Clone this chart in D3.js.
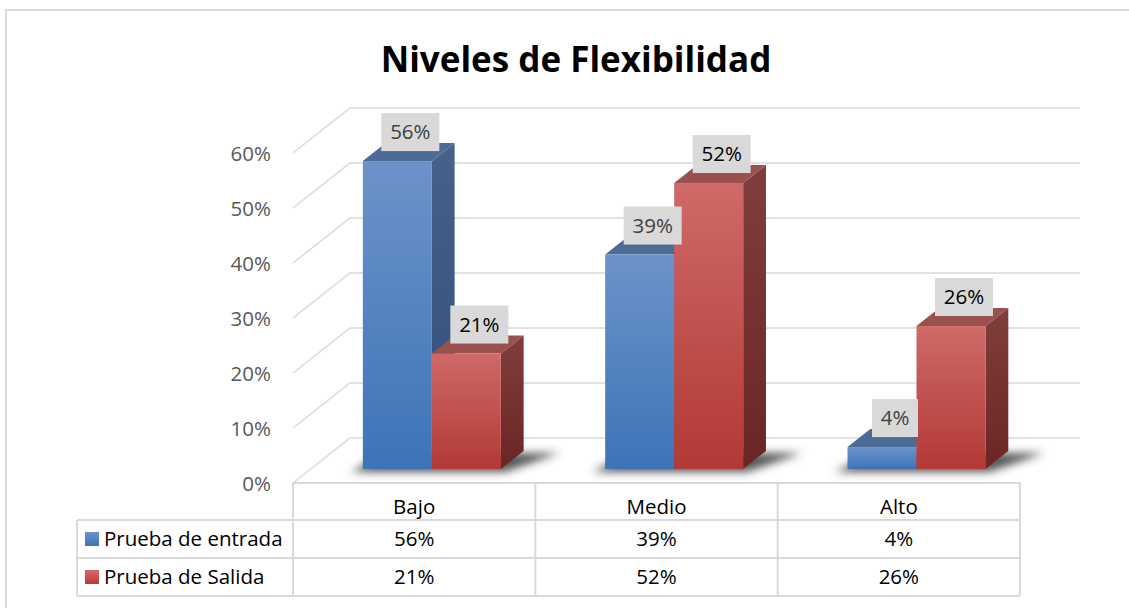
<!DOCTYPE html>
<html>
<head>
<meta charset="utf-8">
<script src="https://cdn.jsdelivr.net/npm/d3@7"></script>
<style>
  body { margin: 0; background: #fff; }
  svg { display: block; font-family: "Open Sans", sans-serif; }
</style>
</head>
<body>
<svg id="chart"></svg>
<script>
const w = 1129;
const h = 608;

const categories = ["Bajo", "Medio", "Alto"];
const seriesNames = ["Prueba de entrada", "Prueba de Salida"];
const entrada = [0.56, 0.39, 0.04];
const salida = [0.21, 0.52, 0.26];
const yTicks = [0, 0.1, 0.2, 0.3, 0.4, 0.5, 0.6];

// 3d depth of the plot box
const DX = 57, DY = 45;
const f0 = 0.31, f1 = 0.71; // bar front / back depth fraction

const left = 293, right = 1020, floorY = 483;
const FONT = "\"Open Sans\", sans-serif";
const FS = 20.5;

const svg = d3.select("#chart").attr("width", w).attr("height", h);

const defs = svg.append("defs");
function grad(id, stops) {
  const g = defs.append("linearGradient").attr("id", id)
    .attr("x1", 0).attr("y1", 0).attr("x2", 0).attr("y2", 1);
  stops.forEach((c, i) => g.append("stop").attr("offset", i / (stops.length - 1)).attr("stop-color", c));
}
grad("bFront", ["#6c93c9", "#3e73b8"]);
grad("bSide", ["#46618a", "#2f4f7b"]);
grad("rFront", ["#ce6a68", "#b23936"]);
grad("rSide", ["#7f3e3c", "#6c2525"]);
grad("bLeg", ["#6c93c9", "#3e73b8"]);
grad("rLeg", ["#d66a68", "#b83a37"]);
defs.append("filter").attr("id", "blur")
  .attr("x", "-20%").attr("y", "-50%").attr("width", "140%").attr("height", "200%")
  .append("feGaussianBlur").attr("stdDeviation", 4);

const colors = {
  front: ["url(#bFront)", "url(#rFront)"],
  side: ["url(#bSide)", "url(#rSide)"],
  top: ["#4c6c97", "#9a504e"],
  label: ["#404040", "#000"]
};

// outer chart border
svg.append("rect")
  .attr("x", 6).attr("y", 10)
  .attr("width", w + 20).attr("height", h + 20)
  .attr("fill", "none").attr("stroke", "#d9d9d9").attr("stroke-width", 2);

// title
svg.append("text")
  .attr("x", 576).attr("y", 72)
  .attr("text-anchor", "middle")
  .attr("font-size", 35).attr("font-weight", "bold").attr("fill", "#000")
  .text("Niveles de Flexibilidad");

const x = d3.scaleBand().domain(categories).range([left, right]);
const xs = d3.scaleBand().domain(seriesNames).range([0, 138]);
const y = d3.scaleLinear().domain([0, 0.6]).range([floorY, floorY - 330]);

// gridlines (side wall + back wall)
svg.append("g").selectAll("path")
  .data(yTicks)
  .join("path")
  .attr("d", d => `M${left},${y(d)} L${left + DX},${y(d) - DY} L${right + 60},${y(d) - DY}`)
  .attr("fill", "none").attr("stroke", "#d9d9d9").attr("stroke-width", 1.5);

// y axis labels
const yAxis = d3.axisLeft(y).tickValues(yTicks).tickSize(0).tickPadding(22)
  .tickFormat(d3.format(".0%"));
const ya = svg.append("g").attr("transform", `translate(${left},1)`).call(yAxis);
ya.select(".domain").remove();
ya.selectAll("text").attr("font-size", FS).attr("fill", "#595959")
  .style("font-family", FONT);

const values = [entrada, salida];
const bars = [];
categories.forEach((c, ci) => {
  seriesNames.forEach((s, si) => {
    const x0 = x(c) + (x.bandwidth() - 138) / 2 + xs(s) + f0 * DX;
    const yb = y(0) - f0 * DY;
    const yt = y(values[si][ci]) - f0 * DY;
    bars.push({ ci, si, x0, x1: x0 + xs.bandwidth(), yb, yt, v: values[si][ci] });
  });
});
const ddx = (f1 - f0) * DX, ddy = (f1 - f0) * DY;

// shadows on the floor
const shadowG = svg.append("g").attr("filter", "url(#blur)");
categories.forEach((c, ci) => {
  const pair = bars.filter(b => b.ci === ci);
  const x0 = pair[0].x0, x1 = pair[1].x1, yb = pair[0].yb;
  shadowG.append("path")
    .attr("d", `M${x0 - 12},${yb + 3} L${x1 + 4},${yb + 3} L${x1 + ddx + 36},${yb - ddy + 2} L${x0 + ddx},${yb - ddy + 2} Z`)
    .attr("fill", "#3a3a3a").attr("opacity", 0.85);
});

// bars
const barG = svg.append("g");
bars.forEach(b => {
  const g = barG.append("g");
  g.append("path")
    .attr("d", `M${b.x1},${b.yb} L${b.x1 + ddx},${b.yb - ddy} L${b.x1 + ddx},${b.yt - ddy} L${b.x1},${b.yt} Z`)
    .attr("fill", colors.side[b.si]);
  g.append("path")
    .attr("d", `M${b.x0},${b.yt} L${b.x1},${b.yt} L${b.x1 + ddx},${b.yt - ddy} L${b.x0 + ddx},${b.yt - ddy} Z`)
    .attr("fill", colors.top[b.si]);
  g.append("rect")
    .attr("x", b.x0).attr("y", b.yt)
    .attr("width", b.x1 - b.x0).attr("height", b.yb - b.yt)
    .attr("fill", colors.front[b.si]);
});

// data labels
const fmt = d3.format(".0%");
bars.forEach(b => {
  const cx = (b.x0 + b.x1) / 2 + 13;
  const cy = b.yt - 29;
  const t = fmt(b.v);
  const bw = t.length === 2 ? 46 : 58;
  svg.append("rect")
    .attr("x", cx - bw / 2).attr("y", cy - 19)
    .attr("width", bw).attr("height", 38)
    .attr("fill", "#d9d9d9");
  svg.append("text")
    .attr("x", cx).attr("y", cy + 7)
    .attr("text-anchor", "middle")
    .attr("font-size", FS).attr("fill", colors.label[b.si])
    .text(t);
});

// data table
const rows = [floorY, 520, 558, 596];
const tbl = svg.append("g").attr("stroke", "#d9d9d9").attr("stroke-width", 2).attr("fill", "none");
tbl.append("path").attr("d", `M${left},${rows[0]} L${right},${rows[0]}`);
tbl.append("path").attr("d", `M77,${rows[1]} L${right},${rows[1]}`);
tbl.append("path").attr("d", `M77,${rows[2]} L${right},${rows[2]}`);
tbl.append("path").attr("d", `M77,${rows[3]} L${right},${rows[3]}`);
tbl.append("path").attr("d", `M77,${rows[1]} L77,${rows[3]}`);
[left, ...categories.map(c => x(c) + x.bandwidth())].forEach(xx => {
  tbl.append("path").attr("d", `M${xx},${rows[0]} L${xx},${rows[3]}`);
});

svg.append("g").selectAll("text")
  .data(categories)
  .join("text")
  .attr("x", d => x(d) + x.bandwidth() / 2)
  .attr("y", 514)
  .attr("text-anchor", "middle")
  .attr("font-size", FS).attr("fill", "#000")
  .text(d => d);

seriesNames.forEach((s, si) => {
  const ry = rows[si + 1];
  svg.append("rect")
    .attr("x", 85).attr("y", ry + 12)
    .attr("width", 14).attr("height", 14)
    .attr("fill", si === 0 ? "url(#bLeg)" : "url(#rLeg)");
  svg.append("text")
    .attr("x", 104).attr("y", ry + 26)
    .attr("font-size", FS).attr("fill", "#000")
    .text(s);
  categories.forEach((c, ci) => {
    svg.append("text")
      .attr("x", x(c) + x.bandwidth() / 2)
      .attr("y", ry + 26)
      .attr("text-anchor", "middle")
      .attr("font-size", FS).attr("fill", "#000")
      .text(fmt(values[si][ci]));
  });
});
</script>
</body>
</html>
